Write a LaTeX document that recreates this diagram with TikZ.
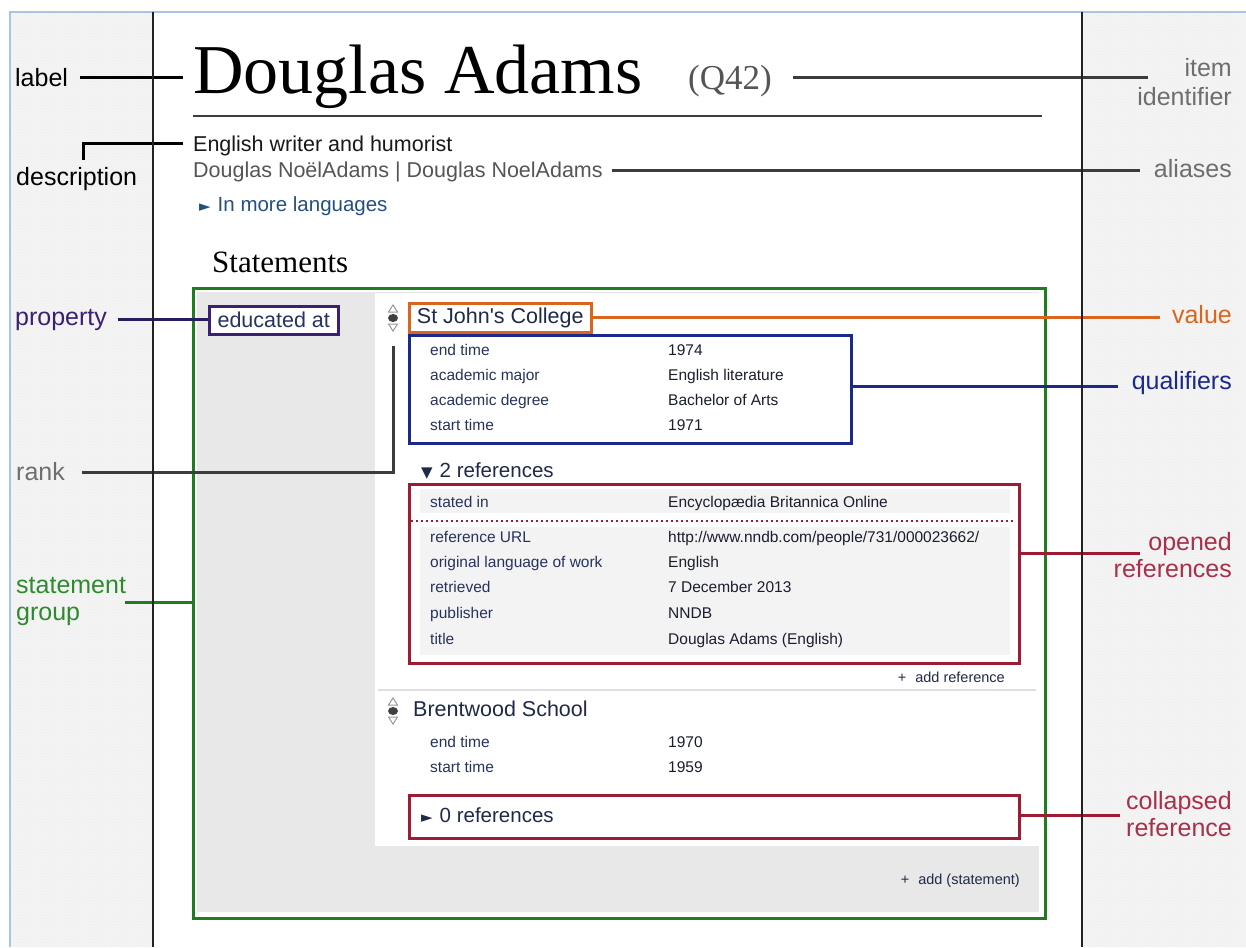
\documentclass[tikz,border=0pt]{standalone}
\usepackage{fontspec}
\setmainfont{Liberation Sans}
\newfontfamily\serifF{Liberation Serif}
\newfontfamily\symF{DejaVu Sans}
\newfontfamily\straightF{Liberation Sans}[Ligatures=TeXOff]
\usetikzlibrary{patterns}
\definecolor{hatchbg}{HTML}{F4F4F4}
\definecolor{frameblue}{HTML}{A9C4E6}
\definecolor{vline}{HTML}{222222}
\definecolor{lblgray}{HTML}{6E6E6E}
\definecolor{conngray}{HTML}{3C3C3C}
\definecolor{propcol}{HTML}{3A1F73}
\definecolor{proplin}{HTML}{2A1A60}
\definecolor{valcol}{HTML}{D9661E}
\definecolor{qualcol}{HTML}{1B2A8A}
\definecolor{refcol}{HTML}{9E1B34}
\definecolor{reflbl}{HTML}{A8304A}
\definecolor{grpcol}{HTML}{1E7D1E}
\definecolor{grplbl}{HTML}{2F8A2F}
\definecolor{panelgray}{HTML}{E8E8E8}
\definecolor{rowgray}{HTML}{F3F3F3}
\definecolor{keytext}{HTML}{27335F}
\definecolor{valtext}{HTML}{1A1E2E}
\definecolor{linktext}{HTML}{24507F}
\definecolor{navytext}{HTML}{1F2A48}
\definecolor{aliasgray}{HTML}{555555}
\tikzset{
  annot/.style={font=\fontsize{25}{27}\selectfont, inner sep=0pt},
  conn/.style={line width=3pt},
  keyT/.style={font=\fontsize{15.5}{18}\selectfont, text=keytext, inner sep=0pt, anchor=base west},
  valT/.style={font=\fontsize{15.5}{18}\selectfont, text=valtext, inner sep=0pt, anchor=base west},
  bigT/.style={font=\fontsize{21.5}{25}\selectfont, inner sep=0pt},
  midT/.style={font=\fontsize{20.5}{24}\selectfont, inner sep=0pt},
  smallT/.style={font=\fontsize{14.5}{17}\selectfont, text=navytext, inner sep=0pt, anchor=base east},
  hatch/.style={fill=hatchbg},
  hatchdots/.style={pattern=crosshatch dots, pattern color=gray!14},
  rankicon/.pic={
    \draw[gray!80, line width=1pt] (-4.5,-6) -- (4.5,-6) -- (0,-13) -- cycle;
    \fill[gray!50!black] (0,0) ellipse [x radius=5pt, y radius=4pt];
    \draw[gray!80, line width=1pt] (-4.5,6) -- (4.5,6) -- (0,13) -- cycle;
  }
}
\begin{document}
\begin{tikzpicture}[x=1pt,y=-1pt]
\useasboundingbox (0,0) rectangle (1246,947);
% background
\fill[white] (0,0) rectangle (1246,947);
\fill[hatch] (10,12) rectangle (153,947);
\fill[hatchdots] (10,12) rectangle (153,947);
\fill[hatch] (1082,12) rectangle (1246,947);
\fill[hatchdots] (1082,12) rectangle (1246,947);
\draw[frameblue, line width=1.2pt] (10,947) -- (10,12) -- (1246,12);

% header
\node[font=\serifF\fontsize{70}{80}\selectfont, anchor=base west, inner sep=0pt] (title) at (193,94) {Douglas Adams};
\node[font=\serifF\fontsize{35}{40}\selectfont, text=aliasgray, anchor=base west, inner sep=0pt] (qid) at (688,90) {(Q42)};
\draw[conngray, line width=2.5pt] (193,116) -- (1042,116);
\node[bigT, text=black!90, anchor=base west] (desc) at (193,151) {English writer and humorist};
\node[bigT, text=aliasgray, anchor=base west] (alias) at (193,177) {Douglas NoëlAdams | Douglas NoelAdams};
\node[midT, text=linktext, anchor=base west] (more) at (199,211) {{\symF\fontsize{15}{16}\selectfont ►}\hspace{7pt}In more languages};
\node[font=\serifF\fontsize{31}{36}\selectfont, anchor=base west, inner sep=0pt] (stmts) at (212,272) {Statements};

% statement group panel
\node[draw=grpcol, line width=3pt, fill=white, anchor=north west, minimum width=852, minimum height=630, inner sep=0pt] (group) at (192,287) {};
\fill[panelgray] (197,292) rectangle (1039,912);
\fill[white] (375,293) rectangle (1039,846);
\draw[gray!25, line width=2pt] (378,690) -- (1036,690);

% property
\node[draw=propcol, line width=2.5pt, fill=white, bigT, text=keytext, anchor=north west, minimum width=129, minimum height=28] (prop) at (208,305) {educated at};

% first statement
\pic at (393,318) {rankicon};
\node[draw=valcol, line width=2.5pt, fill=white, bigT, text=navytext, anchor=north west, minimum width=182, minimum height=29] (value) at (408,302) {\straightF St John's College};
\node[draw=qualcol, line width=2.5pt, anchor=north west, minimum width=442, minimum height=108, inner sep=0pt] (quals) at (408,334) {};
\node[keyT] (q1k) at (430,355) {end time};
\node[valT] (q1v) at (668,355) {1974};
\node[keyT] (q2k) at (430,380) {academic major};
\node[valT] (q2v) at (668,380) {English literature};
\node[keyT] (q3k) at (430,405) {academic degree};
\node[valT] (q3v) at (668,405) {Bachelor of Arts};
\node[keyT] (q4k) at (430,430) {start time};
\node[valT] (q4v) at (668,430) {1971};

\node[midT, text=navytext, anchor=base west] (tworefs) at (421,477) {{\symF\fontsize{15}{16}\selectfont ▼}\hspace{7pt}2 references};
\fill[rowgray] (420,489) rectangle (1010,513);
\fill[rowgray] (420,527) rectangle (1010,655);
\node[draw=refcol, line width=2.5pt, anchor=north west, minimum width=610, minimum height=179, inner sep=0pt] (refs) at (408,483) {};
\draw[refcol, line width=2pt, dash pattern=on 2pt off 3pt] (411,521) -- (1015,521);
\node[keyT] (r1k) at (430,507) {stated in};
\node[valT] (r1v) at (668,507) {Encyclopædia Britannica Online};
\node[keyT] (r2k) at (430,542) {reference URL};
\node[valT] (r2v) at (668,542) {http://www.nndb.com/people/731/000023662/};
\node[keyT] (r3k) at (430,567) {original language of work};
\node[valT] (r3v) at (668,567) {English};
\node[keyT] (r4k) at (430,592) {retrieved};
\node[valT] (r4v) at (668,592) {7 December 2013};
\node[keyT] (r5k) at (430,618) {publisher};
\node[valT] (r5v) at (668,618) {NNDB};
\node[keyT] (r6k) at (430,644) {title};
\node[valT] (r6v) at (668,644) {Douglas Adams (English)};
\node[smallT] (addref) at (1005,682) {+\hspace{9pt}add reference};

% second statement
\pic at (393,711) {rankicon};
\node[bigT, text=navytext, anchor=base west] (school2) at (413,716) {Brentwood School};
\node[keyT] (b1k) at (430,747) {end time};
\node[valT] (b1v) at (668,747) {1970};
\node[keyT] (b2k) at (430,772) {start time};
\node[valT] (b2v) at (668,772) {1959};
\node[draw=refcol, line width=2.5pt, fill=white, anchor=north west, minimum width=610, minimum height=43, inner sep=0pt] (collapsed) at (408,794) {};
\node[midT, text=navytext, anchor=base west] (zerorefs) at (421,822) {{\symF\fontsize{15}{16}\selectfont ►}\hspace{7pt}0 references};
\node[smallT] (addstmt) at (1020,884) {+\hspace{9pt}add (statement)};

% annotation labels
\node[annot, anchor=base west] (lblLabel) at (15,87) {label};
\node[annot, anchor=base west] (lblDesc) at (16,185) {description};
\node[annot, text=propcol, anchor=base west] (lblProp) at (15,325) {property};
\node[annot, text=lblgray, anchor=base west] (lblRank) at (16,480) {rank};
\node[annot, text=grplbl, align=left, anchor=west] (lblGroup) at (16,602) {statement\\group};
\node[annot, font=\fontsize{25}{29}\selectfont, text=lblgray, align=right, anchor=east] (lblItem) at (1232,82) {item\\identifier};
\node[annot, text=lblgray, anchor=base east] (lblAlias) at (1232,177) {aliases};
\node[annot, text=valcol, anchor=base east] (lblValue) at (1232,323) {value};
\node[annot, text=qualcol, anchor=base east] (lblQual) at (1232,389) {qualifiers};
\node[annot, text=reflbl, align=right, anchor=east] (lblOpen) at (1232,555) {opened\\references};
\node[annot, text=reflbl, align=right, anchor=east] (lblColl) at (1232,814) {collapsed\\reference};

% connector end points
\coordinate (cLabelA) at (80,78);
\coordinate (cLabelB) at (183,78);
\coordinate (cDescA) at (83,160);
\coordinate (cDescB) at (183,143);
\coordinate (cItemA) at (793,78);
\coordinate (cItemB) at (1148,78);
\coordinate (cAliasA) at (612,170);
\coordinate (cAliasB) at (1140,170);
\coordinate (cRankA) at (393,346);
\coordinate (cRankB) at (82,472);
\coordinate (cGroupA) at (125,602);
\coordinate (cGroupB) at (192,602);
\coordinate (cOpenA) at (1018,553);
\coordinate (cOpenB) at (1140,553);
\coordinate (cQualB) at (1118,386);
\coordinate (cValB) at (1160,317);
\coordinate (cPropA) at (118,319);
\coordinate (cCollB) at (1120,815);

% connectors
\draw[conn, black] (cLabelA) -- (cLabelB);
\draw[conn, black] (cDescA) |- (cDescB);
\draw[conn, conngray] (cItemA) -- (cItemB);
\draw[conn, conngray] (cAliasA) -- (cAliasB);
\draw[conn, proplin] (cPropA) -- (cPropA -| prop.west);
\draw[conn, conngray] (cRankA) |- (cRankB);
\draw[conn, grpcol] (cGroupA) -- (cGroupB);
\draw[conn, valcol] (cValB -| value.east) -- (cValB);
\draw[conn, qualcol] (cQualB -| quals.east) -- (cQualB);
\draw[conn, refcol] (cOpenA) -- (cOpenB);
\draw[conn, refcol] (cCollB -| collapsed.east) -- (cCollB);

% page borders
\draw[vline, line width=2.5pt] (153,12) -- (153,947);
\draw[vline, line width=2.5pt] (1082,12) -- (1082,947);
\end{tikzpicture}
\end{document}
